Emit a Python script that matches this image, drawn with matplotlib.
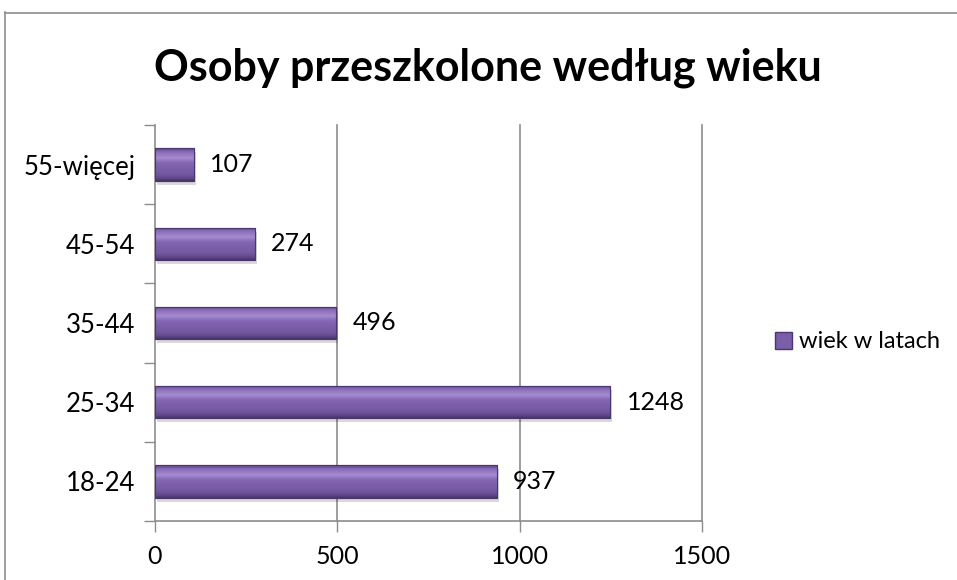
import numpy as np
import matplotlib
matplotlib.use("Agg")
import matplotlib.pyplot as plt
from matplotlib.lines import Line2D
from matplotlib.patches import Rectangle
from matplotlib.colors import LinearSegmentedColormap

categories = ["18-24", "25-34", "35-44", "45-54", "55-więcej"]
values = [937, 1248, 496, 274, 107]
series_name = "wiek w latach"
title = "Osoby przeszkolone według wieku"
xticks = [0, 500, 1000, 1500]

plt.rcParams['font.family'] = ['Lato', 'DejaVu Sans']

fig = plt.figure(figsize=(9.57, 5.8), dpi=100)
W, H = 957, 580
ax = fig.add_axes([155 / W, 1 - 521 / H, (702 - 155) / W, (521 - 125) / H])

# figure frame
fig.add_artist(Line2D([4.5 / W, 4.5 / W], [0, 1 - 12 / H], transform=fig.transFigure, color="#8c8c8c", lw=1.2))
fig.add_artist(Line2D([4.5 / W, 1], [1 - 12.5 / H, 1 - 12.5 / H], transform=fig.transFigure, color="#8c8c8c", lw=1.2))

y = np.arange(len(categories))
h = 0.41
grad = np.linspace(0, 1, 256).reshape(-1, 1)
cmap = LinearSegmentedColormap.from_list("p", [
    (0.0, "#5a4282"), (0.12, "#8a6cb8"), (0.3, "#a58bd0"), (0.45, "#8466b4"),
    (0.8, "#7257a0"), (0.92, "#5e4788"), (1.0, "#463266")])

# shadows
ax.barh(y - 0.05, values, height=h, left=6, color="#000000", alpha=0.15, zorder=2, linewidth=0)
bars = ax.barh(y, values, height=h, color="#7b5ea8", edgecolor="#4a3670", linewidth=0.8, zorder=3)
for b, v, yi in zip(bars, values, y):
    im = ax.imshow(grad, aspect="auto", cmap=cmap, extent=[0, v, yi - h / 2, yi + h / 2],
                   origin="upper", zorder=3.5)
    im.set_clip_path(b)
    ax.text(v + 45, yi, f"{v}", va="center", ha="left", fontsize=18, color="black", zorder=5)
    ax.add_patch(Rectangle((0, yi - h / 2), v, h, fill=False, edgecolor="#4a3670", lw=0.8, zorder=4))

ax.set_xlim(0, 1500)
ax.set_ylim(-0.5, len(categories) - 0.5)
ax.set_xticks(xticks)
ax.set_xticklabels([str(t) for t in xticks], fontsize=18)
ax.set_yticks(y)
ax.set_yticklabels(categories, fontsize=18.5)
ax.tick_params(axis="y", length=0, pad=14)
ax.set_yticks(np.arange(-0.5, len(categories), 1), minor=True)
ax.tick_params(axis="y", which="minor", length=8, color="#8c8c8c", width=1)
ax.tick_params(axis="x", length=8, color="#8c8c8c", width=1, pad=9)
for t in xticks[1:]:
    ax.axvline(t, color="#8c8c8c", lw=1.2, zorder=0, clip_on=False)
for s in ["top", "right"]:
    ax.spines[s].set_visible(False)
ax.spines["left"].set_color("#8c8c8c")
ax.spines["bottom"].set_color("#8c8c8c")
ax.spines["left"].set_linewidth(1.2)
ax.spines["bottom"].set_linewidth(1.2)

fig.text(488 / W, 1 - 68 / H, title, ha="center", va="center", fontsize=31, fontweight="bold")

handle = Rectangle((0, 0), 1, 1, facecolor="#7b5ea8", edgecolor="#4a3670")
fig.legend([handle], [series_name], loc="center left", bbox_to_anchor=(775 / W, 1 - 342 / H),
           frameon=False, fontsize=17, handlelength=0.7, handleheight=0.7, handletextpad=0.3,
           borderpad=0, borderaxespad=0)

fig.savefig("out.png", dpi=100)
